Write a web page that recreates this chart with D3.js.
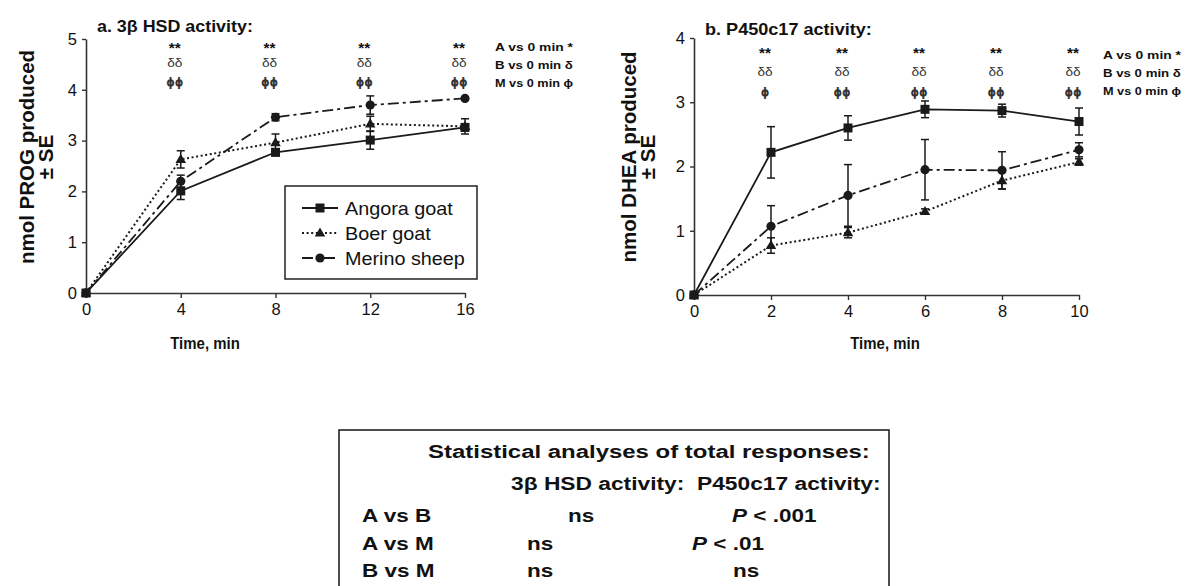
<!DOCTYPE html>
<html>
<head>
<meta charset="utf-8">
<script src="https://cdn.jsdelivr.net/npm/d3@7/dist/d3.min.js"></script>
<style>
  html, body { margin: 0; padding: 0; background: #fff; }
  svg { display: block; }
  text { font-family: "Liberation Sans", Arial, Helvetica, sans-serif; fill: #111; white-space: pre; }
</style>
</head>
<body>
<svg id="fig" width="1190" height="586"></svg>
<script>
// ---- 3beta HSD activity (nmol PROG produced) ----
const hsdTime = [0, 4, 8, 12, 16];
const hsdAngora = [0, 2.01, 2.77, 3.01, 3.26];
const hsdAngoraSE = [0, 0.17, 0.07, 0.18, 0.07];
const hsdBoer = [0, 2.63, 2.96, 3.33, 3.28];
const hsdBoerSE = [0, 0.17, 0.17, 0.15, 0.15];
const hsdMerino = [0, 2.20, 3.46, 3.70, 3.83];
const hsdMerinoSE = [0, 0.12, 0.07, 0.18, 0.03];
const hsdYTicks = [0, 1, 2, 3, 4, 5];
const hsdStars = ["**", "**", "**", "**"];
const hsdDelta = ["δδ", "δδ", "δδ", "δδ"];
const hsdPhi = ["ϕϕ", "ϕϕ", "ϕϕ", "ϕϕ"];

// ---- P450c17 activity (nmol DHEA produced) ----
const p450Time = [0, 2, 4, 6, 8, 10];
const p450Angora = [0, 2.22, 2.60, 2.89, 2.87, 2.70];
const p450AngoraSE = [0, 0.40, 0.19, 0.13, 0.10, 0.21];
const p450Boer = [0, 0.77, 0.97, 1.30, 1.78, 2.07];
const p450BoerSE = [0, 0.12, 0.08, 0.04, 0.13, 0.05];
const p450Merino = [0, 1.07, 1.55, 1.95, 1.94, 2.26];
const p450MerinoSE = [0, 0.32, 0.48, 0.47, 0.29, 0.11];
const p450YTicks = [0, 1, 2, 3, 4];
const p450Stars = ["**", "**", "**", "**", "**"];
const p450Delta = ["δδ", "δδ", "δδ", "δδ", "δδ"];
const p450Phi = ["ϕ", "ϕϕ", "ϕϕ", "ϕϕ", "ϕϕ"];

const seriesNames = ["Angora goat", "Boer goat", "Merino sheep"];
const keyLines = ["A vs 0 min *", "B vs 0 min δ", "M vs 0 min ϕ"];

// ---- statistics of total responses ----
const tableTitle = "Statistical analyses of total responses:";
const tableHeads = ["3β HSD activity:", "P450c17 activity:"];
const comparisons = ["A vs B", "A vs M", "B vs M"];
const hsdResults = ["ns", "ns", "ns"];
const p450Results = ["P < .001", "P < .01", "ns"];

const svg = d3.select("#fig");
svg.append("rect").attr("width", 1190).attr("height", 586).attr("fill", "#fff");

const INK = "#1a1a1a";
const GREEK = "'DejaVu Sans', 'Liberation Sans', sans-serif";
const styles = [
  { marker: "square", dash: null, width: 1.8 },
  { marker: "triangle", dash: "2,2.6", width: 2 },
  { marker: "circle", dash: "11,4,3,4", width: 1.8 }
];

// text helper with a horizontal stretch factor (or a target width)
function label(g, x, y, str, o = {}) {
  const t = g.append("text")
    .attr("text-anchor", o.anchor || "start")
    .style("font-size", (o.size || 14) + "px")
    .style("font-weight", o.weight || "normal")
    .style("font-style", o.italic ? "italic" : "normal")
    .text(str);
  if (o.family) t.style("font-family", o.family);
  if (o.fill) t.style("fill", o.fill);
  let sx = o.sx || 1;
  if (o.fit) sx = o.fit / t.node().getComputedTextLength();
  t.attr("transform", `translate(${x},${y}) scale(${sx},1)`);
  return t;
}

function drawMarker(g, type, x, y) {
  if (type === "square") {
    g.append("rect").attr("x", x - 4.5).attr("y", y - 4.5).attr("width", 9).attr("height", 9).attr("fill", INK);
  } else if (type === "triangle") {
    g.append("path").attr("d", d3.symbol(d3.symbolTriangle, 48)()).attr("transform", `translate(${x},${y + 0.5})`).attr("fill", INK);
  } else {
    g.append("circle").attr("cx", x).attr("cy", y).attr("r", 4.6).attr("fill", INK);
  }
}

function drawPanel(cfg) {
  const g = svg.append("g");
  const x = d3.scaleLinear().domain([0, cfg.time[cfg.time.length - 1]]).range([cfg.left, cfg.right]);
  const y = d3.scaleLinear().domain([0, cfg.yTicks[cfg.yTicks.length - 1]]).range([cfg.bottom, cfg.top]);

  // axes
  const ya = g.append("g").attr("transform", `translate(${cfg.left},0)`)
    .call(d3.axisLeft(y).tickValues(cfg.yTicks).tickFormat(d3.format("d")).tickSize(4).tickSizeOuter(0).tickPadding(5));
  const xa = g.append("g").attr("transform", `translate(0,${cfg.bottom})`)
    .call(d3.axisBottom(x).tickValues(cfg.time).tickFormat(d3.format("d")).tickSize(5).tickSizeOuter(0).tickPadding(5));
  [ya, xa].forEach(a => {
    a.select(".domain").attr("stroke", "#333").attr("stroke-width", 1.6);
    a.selectAll(".tick line").attr("stroke", "#333").attr("stroke-width", 1.4);
    a.selectAll(".tick text").style("font-size", "16.5px")
      .style("font-family", "Liberation Sans, Arial, sans-serif").attr("fill", "#111");
  });

  // series lines, error bars and markers
  cfg.series.forEach((s, i) => {
    const st = styles[i];
    const pts = cfg.time.map((t, j) => ({ t, v: s.v[j], e: s.e[j] }));
    g.append("path").datum(pts)
      .attr("fill", "none").attr("stroke", INK).attr("stroke-width", st.width)
      .attr("stroke-dasharray", st.dash)
      .attr("d", d3.line().x(d => x(d.t)).y(d => y(d.v)));
    pts.forEach(d => {
      if (d.e > 0) {
        const xx = x(d.t), y1 = y(d.v + d.e), y0 = y(d.v - d.e);
        g.append("line").attr("x1", xx).attr("x2", xx).attr("y1", y1).attr("y2", y0).attr("stroke", INK).attr("stroke-width", 1.5);
        [y1, y0].forEach(yy => g.append("line").attr("x1", xx - 4).attr("x2", xx + 4).attr("y1", yy).attr("y2", yy).attr("stroke", INK).attr("stroke-width", 1.5));
      }
      drawMarker(g, st.marker, x(d.t), y(d.v));
    });
  });

  // significance marks above each time point
  cfg.time.slice(1).forEach((t, j) => {
    const cx = x(t) - 6;
    label(g, cx, cfg.markY[0], cfg.stars[j], { anchor: "middle", size: 14, weight: "bold", sx: 1.1 });
    label(g, cx, cfg.markY[1], cfg.delta[j], { anchor: "middle", size: 13, sx: 1.05, fill: "#333" });
    label(g, cx, cfg.markY[2], cfg.phi[j], { anchor: "middle", size: 12, weight: "bold", family: GREEK, sx: 0.9, fill: "#333" });
  });

  // key for significance marks
  keyLines.forEach((k, j) => {
    label(g, cfg.keyX, cfg.keyY + j * 18, k, { size: 11, weight: "bold", fit: 78 });
  });

  // titles
  label(g, cfg.titleX, cfg.titleY, cfg.title, { size: 16.5, weight: "bold", fit: cfg.titleW });
  const ylab = g.append("g").attr("transform", `translate(${cfg.ylabX},${cfg.ylabY}) rotate(-90)`);
  label(ylab, 0, 0, cfg.ylab, { anchor: "middle", size: 20.5, weight: "bold", sx: 1.001 });
  label(ylab, 0, 19, "± SE", { anchor: "middle", size: 20.5, weight: "bold", sx: 1.001 });
  label(g, cfg.xlabX, 349, "Time, min", { anchor: "middle", size: 17, weight: "bold", sx: 0.88 });
  return { x, y, g };
}

drawPanel({
  left: 86, right: 465, top: 39, bottom: 293,
  time: hsdTime, yTicks: hsdYTicks,
  series: [
    { v: hsdAngora, e: hsdAngoraSE },
    { v: hsdBoer, e: hsdBoerSE },
    { v: hsdMerino, e: hsdMerinoSE }
  ],
  stars: hsdStars, delta: hsdDelta, phi: hsdPhi,
  markY: [53, 67, 86],
  keyX: 495, keyY: 51,
  title: "a. 3β HSD activity:", titleX: 97, titleY: 32, titleW: 156,
  ylab: "nmol PROG produced", ylabX: 34, ylabY: 157,
  xlabX: 205
});

drawPanel({
  left: 694, right: 1079, top: 38, bottom: 295,
  time: p450Time, yTicks: p450YTicks,
  series: [
    { v: p450Angora, e: p450AngoraSE },
    { v: p450Boer, e: p450BoerSE },
    { v: p450Merino, e: p450MerinoSE }
  ],
  stars: p450Stars, delta: p450Delta, phi: p450Phi,
  markY: [58, 76, 96],
  keyX: 1103, keyY: 59,
  title: "b. P450c17 activity:", titleX: 705, titleY: 35, titleW: 167,
  ylab: "nmol DHEA produced", ylabX: 636, ylabY: 157,
  xlabX: 885
});

// legend for the breeds (panel a)
const lg = svg.append("g");
lg.append("rect").attr("x", 285).attr("y", 186).attr("width", 192).attr("height", 93)
  .attr("fill", "#fff").attr("stroke", "#222").attr("stroke-width", 1.5);
seriesNames.forEach((name, i) => {
  const yy = 208 + i * 25;
  const st = styles[i];
  lg.append("line").attr("x1", 302).attr("x2", 338).attr("y1", yy).attr("y2", yy)
    .attr("stroke", INK).attr("stroke-width", st.width).attr("stroke-dasharray", st.dash);
  drawMarker(lg, st.marker, 320, yy);
  label(lg, 345, yy + 6.5, name, { size: 18, sx: 1.1 });
});

// table of total-response comparisons
const tb = svg.append("g");
tb.append("rect").attr("x", 339).attr("y", 430).attr("width", 550).attr("height", 170)
  .attr("fill", "#fff").attr("stroke", "#222").attr("stroke-width", 1.6);
label(tb, 428, 458, tableTitle, { size: 19, weight: "bold", fit: 442 });
label(tb, 511, 490, tableHeads.join("  "), { size: 18, weight: "bold", fit: 370 });
const hsdColX = [568, 527, 527];
const p450ColX = [732, 692, 733];
comparisons.forEach((c, i) => {
  const yy = 522 + i * 27.5;
  label(tb, 362, yy, c, { size: 18, weight: "bold", sx: 1.25 });
  label(tb, hsdColX[i], yy, hsdResults[i], { size: 18, weight: "bold", sx: 1.25 });
  const r = p450Results[i];
  const t = label(tb, p450ColX[i], yy, "", { size: 18, weight: "bold", sx: 1.25 });
  if (r.startsWith("P")) {
    t.append("tspan").style("font-style", "italic").text("P");
    t.append("tspan").text(r.slice(1));
  } else {
    t.text(r);
  }
});
</script>
</body>
</html>
